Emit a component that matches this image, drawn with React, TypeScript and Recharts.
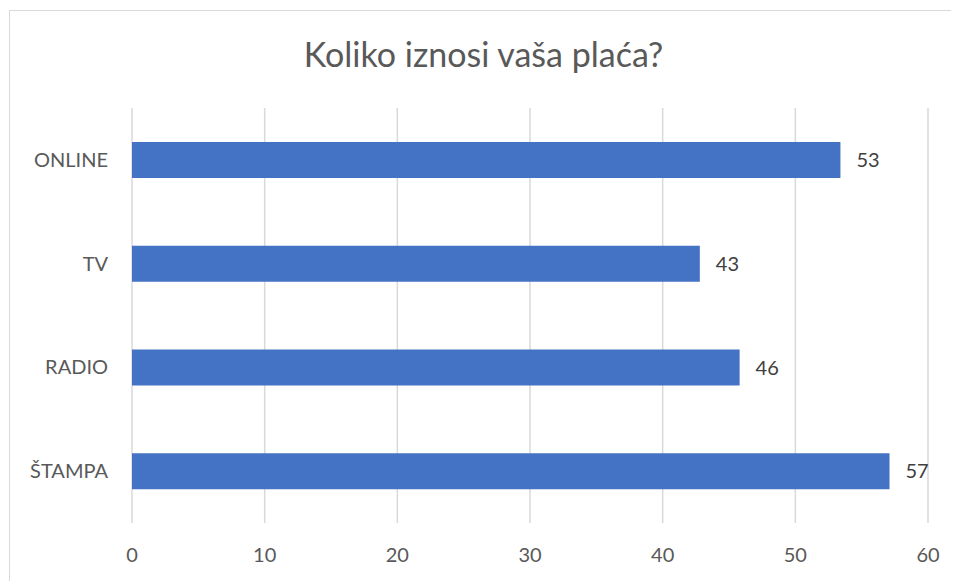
import React from "react";
import { BarChart, Bar, XAxis, YAxis, CartesianGrid, LabelList } from "recharts";

const categories = ["ONLINE", "TV", "RADIO", "ŠTAMPA"];
const values = [53.4, 42.8, 45.8, 57.1];
const xTicks = [0, 10, 20, 30, 40, 50, 60];
const title = "Koliko iznosi vaša plaća?";

const data = categories.map((c, i) => ({ name: c, value: values[i] }));

const FONT = "Lato, 'Open Sans', sans-serif";

export default function App() {
  return (
    <div style={{ position: "relative", width: 951, height: 573, fontFamily: FONT, background: "#fff" }}>
      <div
        style={{
          position: "absolute",
          left: 1,
          top: 2,
          right: -20,
          bottom: -20,
          borderLeft: "1px solid #d9d9d9",
          borderTop: "1px solid #d9d9d9",
          pointerEvents: "none",
        }}
      />
      <div
        style={{
          position: "absolute",
          left: 0,
          width: 951,
          top: 26,
          textAlign: "center",
          fontSize: 34,
          color: "#595959",
          fontFamily: FONT,
          lineHeight: "40px",
        }}
      >
        {title}
      </div>
      <div style={{ position: "absolute", left: 0, top: 0 }}>
        <BarChart
          width={951}
          height={573}
          data={data}
          layout="vertical"
          margin={{ top: 100, right: 31, bottom: 18, left: 0 }}
          barCategoryGap="65%"
        >
          <CartesianGrid horizontal={false} vertical={true} stroke="#d9d9d9" strokeWidth={1.5} />
          <XAxis
            type="number"
            domain={[0, 60]}
            ticks={xTicks}
            axisLine={false}
            tickLine={false}
            tickMargin={19}
            height={40}
            tick={{ fill: "#595959", fontSize: 20, fontFamily: FONT }}
          />
          <YAxis
            type="category"
            dataKey="name"
            width={124}
            axisLine={false}
            tickLine={false}
            tickMargin={18}
            tick={{ fill: "#595959", fontSize: 20, fontFamily: FONT }}
          />
          <Bar dataKey="value" fill="#4472C4" barSize={36} isAnimationActive={false}>
            <LabelList
              dataKey="value"
              position="right"
              offset={16}
              formatter={(v: number) => Math.round(v)}
              style={{ fill: "#404040", fontSize: 20, fontFamily: FONT }}
            />
          </Bar>
        </BarChart>
      </div>
    </div>
  );
}
